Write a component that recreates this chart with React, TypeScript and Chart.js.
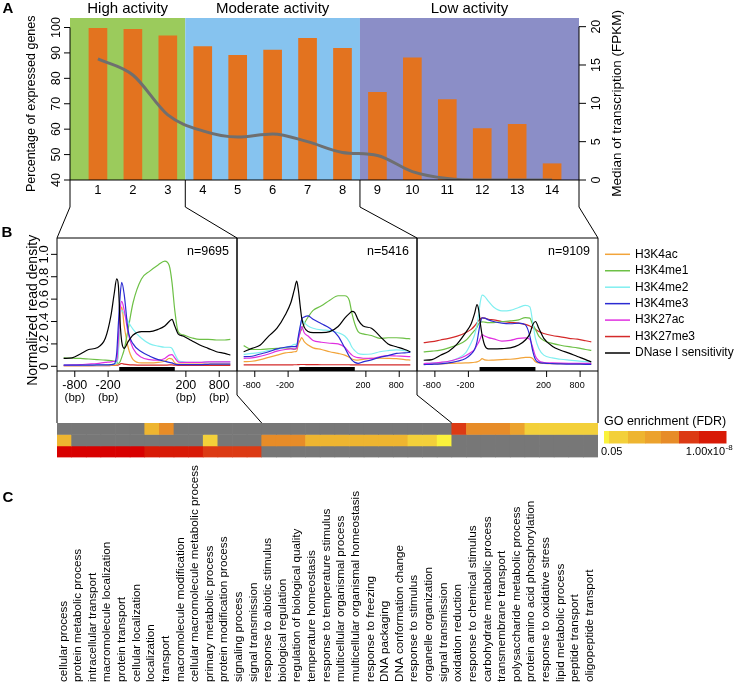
import React, { useEffect, useRef } from 'react';
import { Chart, registerables } from 'chart.js';

Chart.register(...registerables);

const FONT = 'Arial, "Liberation Sans", Helvetica, sans-serif';
const W = 744;
const H = 695;

// ---------------- Panel A data ----------------
const clusterIds = [1, 2, 3, 4, 5, 6, 7, 8, 9, 10, 11, 12, 13, 14];
const pctExpressed = [99.7, 99.3, 96.7, 92.5, 89.1, 91.1, 95.7, 91.8, 74.5, 88.1, 71.6, 60.2, 61.9, 46.4];
const medianFPKM = [15.8, 13.7, 8.5, 6.4, 5.6, 6.0, 5.0, 3.6, 3.2, 1.1, 0.2, 0, 0, 0];
const activityNames = ['High activity', 'Moderate activity', 'Low activity'];
const activityFirst = [1, 4, 9];
const activityLast = [3, 8, 14];
const pctTicks = [40, 50, 60, 70, 80, 90, 100];
const fpkmTicks = [0, 5, 10, 15, 20];

// ---------------- Panel B data ----------------
// position: upstream bp (<0), scaled gene body (0..1000), downstream (1000 + bp)
const profilePos = [-1000, -850, -700, -550, -400, -250, -150, -90, -45, -15, 15, 45, 90, 160, 250, 400, 550, 700, 820, 900, 950, 1000, 1060, 1150, 1300, 1450, 1600, 1750, 1900, 2000];
const markNames = ['H3K4ac', 'H3K4me1', 'H3K4me2', 'H3K4me3', 'H3K27ac', 'H3K27me3', 'DNase I sensitivity'];
const geneCounts = ['n=9695', 'n=5416', 'n=9109'];
const bpTickPos = [-800, -200, 1200, 1800];
const bpTickLabels = ['-800', '-200', '200', '800'];
const densityTicks = [0, 0.2, 0.4, 0.6, 0.8, 1.0];

const high_H3K4ac = [0.005, 0.005, 0.005, 0.006, 0.007, 0.008, 0.01, 0.01, 0.012, 0.15, 0.42, 0.53, 0.36, 0.17, 0.06, 0.03, 0.03, 0.035, 0.045, 0.07, 0.065, 0.03, 0.02, 0.02, 0.02, 0.02, 0.02, 0.02, 0.02, 0.02];
const high_H3K4me1 = [0.075, 0.072, 0.07, 0.065, 0.06, 0.055, 0.05, 0.045, 0.04, 0.025, 0.04, 0.08, 0.15, 0.33, 0.57, 0.78, 0.85, 0.905, 0.94, 0.9, 0.75, 0.5, 0.31, 0.28, 0.255, 0.24, 0.24, 0.235, 0.235, 0.24];
const high_H3K4me2 = [0.01, 0.01, 0.01, 0.012, 0.012, 0.014, 0.015, 0.02, 0.03, 0.12, 0.45, 0.5, 0.47, 0.4, 0.33, 0.25, 0.2, 0.18, 0.17, 0.17, 0.16, 0.11, 0.055, 0.04, 0.035, 0.035, 0.038, 0.04, 0.04, 0.04];
const high_H3K4me3 = [0.01, 0.01, 0.01, 0.01, 0.012, 0.012, 0.015, 0.02, 0.12, 0.38, 0.62, 0.75, 0.64, 0.32, 0.2, 0.13, 0.09, 0.06, 0.045, 0.035, 0.03, 0.02, 0.015, 0.015, 0.015, 0.015, 0.018, 0.02, 0.02, 0.02];
const high_H3K27ac = [0.01, 0.012, 0.015, 0.02, 0.025, 0.035, 0.04, 0.045, 0.05, 0.25, 0.5, 0.58, 0.5, 0.3, 0.16, 0.08, 0.06, 0.055, 0.07, 0.1, 0.105, 0.075, 0.04, 0.035, 0.035, 0.035, 0.04, 0.04, 0.04, 0.04];
const high_H3K27me3 = [0.005, 0.005, 0.005, 0.005, 0.006, 0.006, 0.007, 0.008, 0.01, 0.012, 0.02, 0.025, 0.02, 0.015, 0.012, 0.01, 0.01, 0.01, 0.01, 0.012, 0.012, 0.01, 0.008, 0.008, 0.008, 0.008, 0.008, 0.008, 0.008, 0.008];
const high_DNase = [0.07, 0.075, 0.11, 0.15, 0.165, 0.25, 0.45, 0.65, 0.78, 0.72, 0.4, 0.22, 0.16, 0.22, 0.28, 0.31, 0.31, 0.33, 0.36, 0.4, 0.42, 0.36, 0.29, 0.27, 0.23, 0.19, 0.16, 0.13, 0.115, 0.1];

const mod_H3K4ac = [0.042, 0.045, 0.06, 0.08, 0.1, 0.12, 0.125, 0.13, 0.135, 0.2, 0.23, 0.257, 0.22, 0.19, 0.165, 0.15, 0.13, 0.115, 0.1, 0.08, 0.065, 0.058, 0.056, 0.062, 0.07, 0.072, 0.071, 0.068, 0.06, 0.056];
const mod_H3K4me1 = [0.185, 0.15, 0.15, 0.155, 0.16, 0.165, 0.16, 0.15, 0.17, 0.25, 0.3, 0.33, 0.38, 0.44, 0.5, 0.54, 0.59, 0.63, 0.63, 0.59, 0.47, 0.38, 0.31, 0.29, 0.275, 0.25, 0.255, 0.255, 0.25, 0.245];
const mod_H3K4me2 = [0.107, 0.115, 0.125, 0.14, 0.15, 0.17, 0.18, 0.195, 0.2, 0.26, 0.34, 0.415, 0.39, 0.36, 0.34, 0.325, 0.32, 0.3, 0.27, 0.22, 0.17, 0.14, 0.115, 0.107, 0.11, 0.13, 0.14, 0.146, 0.14, 0.131];
const mod_H3K4me3 = [0.086, 0.09, 0.11, 0.13, 0.155, 0.17, 0.175, 0.176, 0.18, 0.27, 0.35, 0.42, 0.44, 0.45, 0.42, 0.38, 0.34, 0.27, 0.165, 0.09, 0.055, 0.035, 0.027, 0.04, 0.058, 0.08, 0.095, 0.115, 0.12, 0.125];
const mod_H3K27ac = [0.071, 0.075, 0.09, 0.11, 0.135, 0.15, 0.155, 0.155, 0.16, 0.24, 0.3, 0.355, 0.3, 0.27, 0.23, 0.215, 0.206, 0.2, 0.17, 0.125, 0.1, 0.085, 0.077, 0.072, 0.071, 0.085, 0.095, 0.092, 0.088, 0.086];
const mod_H3K27me3 = [0.012, 0.012, 0.012, 0.012, 0.013, 0.013, 0.013, 0.014, 0.014, 0.015, 0.016, 0.016, 0.016, 0.015, 0.015, 0.014, 0.014, 0.014, 0.014, 0.014, 0.013, 0.013, 0.013, 0.013, 0.012, 0.012, 0.012, 0.012, 0.012, 0.012];
const mod_DNase = [0.13, 0.16, 0.19, 0.27, 0.34, 0.46, 0.57, 0.68, 0.76, 0.68, 0.55, 0.43, 0.35, 0.31, 0.3, 0.3, 0.31, 0.355, 0.43, 0.47, 0.49, 0.48, 0.415, 0.36, 0.34, 0.27, 0.2, 0.175, 0.15, 0.13];

const low_H3K4ac = [0.018, 0.02, 0.022, 0.025, 0.028, 0.03, 0.033, 0.036, 0.04, 0.045, 0.055, 0.069, 0.058, 0.054, 0.056, 0.06, 0.063, 0.07, 0.08, 0.08, 0.07, 0.04, 0.03, 0.026, 0.024, 0.024, 0.023, 0.022, 0.021, 0.021];
const low_H3K4me1 = [0.128, 0.135, 0.145, 0.165, 0.19, 0.23, 0.285, 0.32, 0.35, 0.38, 0.395, 0.397, 0.395, 0.39, 0.39, 0.4, 0.405, 0.415, 0.435, 0.43, 0.375, 0.33, 0.27, 0.23, 0.205, 0.188, 0.175, 0.164, 0.15, 0.143];
const low_H3K4me2 = [0.024, 0.028, 0.033, 0.045, 0.07, 0.12, 0.21, 0.28, 0.37, 0.47, 0.58, 0.636, 0.625, 0.58, 0.53, 0.495, 0.5, 0.525, 0.545, 0.53, 0.4, 0.25, 0.16, 0.1, 0.075, 0.063, 0.055, 0.048, 0.042, 0.039];
const low_H3K4me3 = [0.015, 0.018, 0.022, 0.03, 0.045, 0.07, 0.11, 0.15, 0.22, 0.31, 0.39, 0.433, 0.43, 0.415, 0.4, 0.385, 0.38, 0.385, 0.37, 0.27, 0.14, 0.06, 0.035, 0.028, 0.024, 0.021, 0.02, 0.019, 0.018, 0.018];
const low_H3K27ac = [0.024, 0.028, 0.035, 0.045, 0.065, 0.095, 0.125, 0.15, 0.19, 0.215, 0.25, 0.284, 0.27, 0.256, 0.245, 0.225, 0.232, 0.25, 0.254, 0.24, 0.17, 0.09, 0.05, 0.034, 0.03, 0.028, 0.027, 0.027, 0.027, 0.027];
const low_H3K27me3 = [0.212, 0.22, 0.235, 0.25, 0.27, 0.3, 0.33, 0.36, 0.39, 0.41, 0.425, 0.433, 0.43, 0.42, 0.415, 0.4, 0.392, 0.385, 0.375, 0.36, 0.345, 0.33, 0.31, 0.293, 0.275, 0.263, 0.25, 0.242, 0.228, 0.218];
const low_DNase = [0.054, 0.06, 0.099, 0.135, 0.2, 0.3, 0.38, 0.47, 0.55, 0.5, 0.38, 0.28, 0.19, 0.155, 0.155, 0.158, 0.164, 0.19, 0.235, 0.29, 0.37, 0.4, 0.34, 0.25, 0.18, 0.143, 0.118, 0.088, 0.06, 0.039];

const clusterProfiles = [
  [high_H3K4ac, high_H3K4me1, high_H3K4me2, high_H3K4me3, high_H3K27ac, high_H3K27me3, high_DNase],
  [mod_H3K4ac, mod_H3K4me1, mod_H3K4me2, mod_H3K4me3, mod_H3K27ac, mod_H3K27me3, mod_DNase],
  [low_H3K4ac, low_H3K4me1, low_H3K4me2, low_H3K4me3, low_H3K27ac, low_H3K27me3, low_DNase],
];

// ---------------- GO heatmap / Panel C data ----------------
const goTerms = [
  'cellular process', 'protein metabolic process', 'intracellular transport', 'macromolecule localization',
  'protein transport', 'cellular localization', 'localization', 'transport', 'macromolecule modification',
  'cellular macromolecule metabolic process', 'primary metabolic process', 'protein modification process',
  'signaling process', 'signal transmission', 'response to abiotic stimulus', 'biological regulation',
  'regulation of biological quality', 'temperature homeostasis', 'response to temperature stimulus',
  'multicellular organismal process', 'multicellular organismal homeostasis', 'response to freezing',
  'DNA packaging', 'DNA conformation change', 'response to stimulus', 'organelle organization',
  'signal transmission', 'oxidation reduction', 'response to chemical stimulus', 'carbohydrate metabolic process',
  'transmembrane transport', 'polysaccharide metabolic process', 'protein amino acid phosphorylation',
  'response to oxidative stress', 'lipid metabolic process', 'peptide transport', 'oligopeptide transport',
];
// FDR level codes (0 = not enriched, 1 = FDR 0.05 ... 8 = 1e-8)
const goRowTop = [0, 0, 0, 0, 0, 0, 3, 5, 0, 0, 0, 0, 0, 0, 0, 0, 0, 0, 0, 0, 0, 0, 0, 0, 0, 0, 0, 6, 5, 5, 5, 4, 2, 2, 2, 2, 2];
const goRowMid = [3, 0, 0, 0, 0, 0, 0, 0, 0, 0, 2, 0, 0, 0, 5, 5, 5, 3, 3, 3, 3, 3, 3, 3, 2, 2, 1, 0, 0, 0, 0, 0, 0, 0, 0, 0, 0];
const goRowBot = [8, 8, 8, 8, 8, 8, 7, 7, 7, 7, 6, 6, 6, 6, 0, 0, 0, 0, 0, 0, 0, 0, 0, 0, 0, 0, 0, 0, 0, 0, 0, 0, 0, 0, 0, 0, 0];
const fdrLegendCodes = [1, 2, 3, 4, 5, 6, 7];

// ---------------- styles / layout ----------------
const bandColors = ['#9BCB5C', '#86C3EF', '#8B8EC7'];
const barColor = '#E3731F';
const lineColor = '#6F6F6F';
const markColors = ['#F2A43A', '#6DC046', '#80EFF0', '#2B2BD2', '#E030E0', '#D42A2A', '#000000'];
const fdrPalette = ['#777777', '#FAF23C', '#F3D03A', '#EEB530', '#ECA22D', '#E78C28', '#DC3A14', '#D81A06', '#D80000'];
const legendSegWidths = [5, 19, 17, 16, 18, 20, 27];

const LAY = {
  a: { left: 70, top: 18, right: 579, bottom: 180 },
  knee: 207,
  boxes: [{ left: 57, right: 237 }, { left: 237, right: 417 }, { left: 417, right: 598 }],
  bTop: 238,
  bBottom: 371,
  boxKnee: 395,
  hm: { left: 57, right: 598, top: 423, bottom: 457.5 },
  cBase: 682,
};

function seg(ctx: any, pts: number[][]) {
  ctx.beginPath();
  ctx.moveTo(pts[0][0], pts[0][1]);
  for (let i = 1; i < pts.length; i++) ctx.lineTo(pts[i][0], pts[i][1]);
  ctx.stroke();
}

function txt(ctx: any, s: string, x: number, y: number, size: number, o: any = {}) {
  ctx.save();
  ctx.font = `${o.bold ? 'bold ' : ''}${size}px ${FONT}`;
  ctx.fillStyle = o.color || '#000';
  ctx.textAlign = o.align || 'center';
  ctx.textBaseline = o.baseline || 'middle';
  ctx.translate(x, y);
  if (o.rotate) ctx.rotate(-Math.PI / 2);
  ctx.fillText(s, 0, 0);
  ctx.restore();
}

// ---------------- Panel A ----------------
function bandEdges(chart: any, g: number) {
  const a = chart.chartArea;
  const x = chart.scales.x;
  const l = g === 0 ? a.left : x.getPixelForValue(activityFirst[g] - 0.5);
  const r = g === activityNames.length - 1 ? a.right : x.getPixelForValue(activityLast[g] + 0.5);
  return [l, r];
}

const panelAPlugin = {
  id: 'panelA',
  beforeDatasetsDraw(chart: any) {
    const { ctx, chartArea: a } = chart;
    ctx.save();
    activityNames.forEach((_, g) => {
      const [l, r] = bandEdges(chart, g);
      ctx.fillStyle = bandColors[g];
      ctx.fillRect(l, a.top, r - l, a.bottom - a.top);
    });
    ctx.restore();
  },
  afterDraw(chart: any) {
    const { ctx, chartArea: a, scales } = chart;
    const x = scales.x, yL = scales.yL, yR = scales.yR;
    ctx.save();
    ctx.strokeStyle = '#000';
    ctx.lineWidth = 1;
    seg(ctx, [[a.left, a.bottom], [a.right, a.bottom]]);
    seg(ctx, [[a.left, yL.getPixelForValue(40)], [a.left, yL.getPixelForValue(100)]]);
    pctTicks.forEach((v) => {
      const y = yL.getPixelForValue(v);
      seg(ctx, [[a.left - 6, y], [a.left, y]]);
      txt(ctx, String(v), a.left - 13, y, 12.5, { rotate: true });
    });
    txt(ctx, 'Percentage of expressed genes', 32, (yL.getPixelForValue(40) + yL.getPixelForValue(100)) / 2, 12.5, { rotate: true });
    seg(ctx, [[a.right, yR.getPixelForValue(0)], [a.right, yR.getPixelForValue(20)]]);
    fpkmTicks.forEach((v) => {
      const y = yR.getPixelForValue(v);
      seg(ctx, [[a.right, y], [a.right + 7, y]]);
      txt(ctx, String(v), a.right + 18, y, 12.5, { rotate: true });
    });
    txt(ctx, 'Median of transcription (FPKM)', a.right + 38, (yR.getPixelForValue(0) + yR.getPixelForValue(20)) / 2, 13.5, { rotate: true });
    clusterIds.forEach((c) => txt(ctx, String(c), x.getPixelForValue(c), a.bottom + 10.5, 13));
    activityNames.forEach((name, g) => {
      const [l, r] = bandEdges(chart, g);
      txt(ctx, name, (l + r) / 2, 9, 15);
    });
    txt(ctx, 'A', 8, 9, 15, { bold: true });
    const bounds = [a.left, x.getPixelForValue(activityFirst[1] - 0.5), x.getPixelForValue(activityFirst[2] - 0.5), a.right];
    const corners = [LAY.boxes[0].left, LAY.boxes[1].left, LAY.boxes[2].left, LAY.boxes[2].right];
    bounds.forEach((b, i) => seg(ctx, [[b, a.bottom], [b, LAY.knee], [corners[i], LAY.bTop]]));
    ctx.restore();
  },
};

function makePanelA(canvas: HTMLCanvasElement) {
  return new Chart(canvas, {
    type: 'bar',
    data: {
      datasets: [
        {
          type: 'line',
          label: 'Median of transcription (FPKM)',
          data: clusterIds.map((c, i) => ({ x: c, y: medianFPKM[i] })),
          yAxisID: 'yR',
          borderColor: lineColor,
          borderWidth: 3,
          pointRadius: 0,
          cubicInterpolationMode: 'monotone',
          fill: false,
          order: 0,
        } as any,
        {
          type: 'bar',
          label: 'Percentage of expressed genes',
          data: clusterIds.map((c, i) => ({ x: c, y: pctExpressed[i] })),
          yAxisID: 'yL',
          backgroundColor: barColor,
          barThickness: 18,
          base: 40,
          clip: 0,
          order: 1,
        } as any,
      ],
    },
    options: {
      responsive: false,
      animation: false,
      devicePixelRatio: 1,
      events: [],
      layout: { padding: { left: LAY.a.left, top: LAY.a.top, right: W - LAY.a.right, bottom: H - LAY.a.bottom } },
      plugins: { legend: { display: false }, tooltip: { enabled: false } },
      scales: {
        x: { type: 'linear', min: 0.2, max: 14.77, offset: false, display: false },
        yL: { type: 'linear', position: 'left', min: 40, max: 103.74, display: false },
        yR: { type: 'linear', position: 'right', min: 0, max: 21.13, display: false },
      },
    } as any,
    plugins: [panelAPlugin],
  });
}

// ---------------- Panel B ----------------
function boxPlugin(k: number) {
  return {
    id: 'box' + k,
    afterDraw(chart: any) {
      const { ctx, chartArea: a, scales } = chart;
      const x = scales.x, y = scales.y;
      ctx.save();
      ctx.strokeStyle = '#000';
      ctx.fillStyle = '#000';
      ctx.lineWidth = 1;
      seg(ctx, [[a.left, a.bottom], [a.left, a.top], [a.right, a.top], [a.right, a.bottom]]);
      seg(ctx, [[a.left, a.bottom], [a.right, a.bottom]]);
      const g0 = x.getPixelForValue(0), g1 = x.getPixelForValue(1000);
      ctx.fillRect(g0, a.bottom - 4, g1 - g0, 4);
      bpTickPos.forEach((p, i) => {
        const px = x.getPixelForValue(p);
        seg(ctx, [[px, a.bottom], [px, a.bottom + 6]]);
        if (k === 0) {
          txt(ctx, bpTickLabels[i], px, 386, 12.5);
          txt(ctx, '(bp)', px, 397.5, 11.5);
        } else {
          txt(ctx, bpTickLabels[i], px - 3, 386, 9);
        }
      });
      txt(ctx, geneCounts[k], a.right - 8, 252, 12.5, { align: 'right' });
      if (k === 0) {
        densityTicks.forEach((v) => {
          const py = y.getPixelForValue(v);
          seg(ctx, [[a.left - 6, py], [a.left, py]]);
          txt(ctx, v === 0 ? '0' : v.toFixed(1), a.left - 13, py, 13, { rotate: true });
        });
        txt(ctx, 'Normalized read density', 33, (y.getPixelForValue(0) + y.getPixelForValue(1)) / 2, 14, { rotate: true });
        txt(ctx, 'B', 7, 233, 15, { bold: true });
      }
      if (k === 2) {
        markNames.forEach((name, i) => {
          const ly = 254.3 + i * 16.45;
          ctx.strokeStyle = markColors[i];
          ctx.lineWidth = 1.5;
          seg(ctx, [[605, ly], [630, ly]]);
          txt(ctx, name, 635, ly, 12, { align: 'left' });
        });
      }
      ctx.restore();
    },
  };
}

function makeBox(canvas: HTMLCanvasElement, k: number) {
  const box = LAY.boxes[k];
  const profiles = clusterProfiles[k];
  const drawOrder = [6, 3, 4, 2, 1, 0, 5];
  return new Chart(canvas, {
    type: 'line',
    data: {
      datasets: drawOrder.map((m) => ({
        label: markNames[m],
        data: profilePos.map((p, i) => ({ x: p, y: profiles[m][i] })),
        borderColor: markColors[m],
        borderWidth: 1.2,
        pointRadius: 0,
        cubicInterpolationMode: 'monotone',
        fill: false,
      })),
    } as any,
    options: {
      responsive: false,
      animation: false,
      devicePixelRatio: 1,
      events: [],
      layout: { padding: { left: box.left, right: W - box.right, top: LAY.bTop, bottom: H - LAY.bBottom } },
      plugins: { legend: { display: false }, tooltip: { enabled: false } },
      scales: {
        x: { type: 'linear', min: -1120, max: 2120, display: false },
        y: { type: 'linear', min: -0.042, max: 1.146, display: false },
      },
    } as any,
    plugins: [boxPlugin(k)],
  });
}

// ---------------- Heatmap + Panel C ----------------
const heatPlugin = {
  id: 'heat',
  afterDraw(chart: any) {
    const { ctx, chartArea: a, scales } = chart;
    const x = scales.x;
    ctx.save();
    ctx.strokeStyle = '#000';
    ctx.lineWidth = 1;
    const [b1, b2, b3] = LAY.boxes;
    seg(ctx, [[b1.left, LAY.bBottom], [a.left, a.top]]);
    seg(ctx, [[b1.right, LAY.bBottom], [b1.right, LAY.boxKnee], [x.getPixelForValue(13.5), a.top]]);
    seg(ctx, [[b2.right, LAY.bBottom], [b2.right, LAY.boxKnee], [x.getPixelForValue(26.5), a.top]]);
    seg(ctx, [[b3.right, LAY.bBottom], [a.right, a.top]]);
    // Panel C labels
    goTerms.forEach((t, i) => {
      txt(ctx, t, x.getPixelForValue(i) - 1, LAY.cBase, 11.7, { rotate: true, align: 'left' });
    });
    txt(ctx, 'C', 8, 498, 15, { bold: true });
    // GO legend
    txt(ctx, 'GO enrichment (FDR)', 604, 421.7, 12.5, { align: 'left' });
    let sx = 604;
    fdrLegendCodes.forEach((c, i) => {
      ctx.fillStyle = fdrPalette[c];
      ctx.fillRect(sx, 431, legendSegWidths[i] + 0.5, 12.5);
      sx += legendSegWidths[i];
    });
    txt(ctx, '0.05', 601, 452, 11, { align: 'left' });
    txt(ctx, '1.00x10', 725, 452, 11, { align: 'right' });
    txt(ctx, '-8', 725.5, 447.5, 8, { align: 'left' });
    ctx.restore();
  },
};

function makeHeat(canvas: HTMLCanvasElement) {
  const rows = [goRowTop, goRowMid, goRowBot];
  return new Chart(canvas, {
    type: 'bar',
    data: {
      labels: goTerms.map((t, i) => i + ':' + t),
      datasets: rows.map((row, r) => ({
        label: 'row' + r,
        data: row.map(() => [2 - r, 3 - r]),
        backgroundColor: row.map((c) => fdrPalette[c]),
        borderWidth: 0,
        grouped: false,
        categoryPercentage: 1,
        barPercentage: 1,
      })),
    } as any,
    options: {
      responsive: false,
      animation: false,
      devicePixelRatio: 1,
      events: [],
      layout: { padding: { left: LAY.hm.left, right: W - LAY.hm.right, top: LAY.hm.top, bottom: H - LAY.hm.bottom } },
      plugins: { legend: { display: false }, tooltip: { enabled: false } },
      scales: {
        x: { type: 'category', display: false },
        y: { type: 'linear', min: 0, max: 3, display: false },
      },
    } as any,
    plugins: [heatPlugin],
  });
}

export default function App() {
  const refA = useRef<HTMLCanvasElement>(null);
  const refB0 = useRef<HTMLCanvasElement>(null);
  const refB1 = useRef<HTMLCanvasElement>(null);
  const refB2 = useRef<HTMLCanvasElement>(null);
  const refH = useRef<HTMLCanvasElement>(null);

  useEffect(() => {
    document.body.style.margin = '0';
    const charts: Chart[] = [];
    if (refA.current) charts.push(makePanelA(refA.current));
    [refB0, refB1, refB2].forEach((r, k) => {
      if (r.current) charts.push(makeBox(r.current, k));
    });
    if (refH.current) charts.push(makeHeat(refH.current));
    return () => charts.forEach((c) => c.destroy());
  }, []);

  const cs: React.CSSProperties = { position: 'absolute', left: 0, top: 0, width: W, height: H };
  return (
    <div style={{ position: 'fixed', left: 0, top: 0, width: W, height: H, background: '#fff' }}>
      <canvas ref={refA} width={W} height={H} style={cs} />
      <canvas ref={refB0} width={W} height={H} style={cs} />
      <canvas ref={refB1} width={W} height={H} style={cs} />
      <canvas ref={refB2} width={W} height={H} style={cs} />
      <canvas ref={refH} width={W} height={H} style={cs} />
    </div>
  );
}
